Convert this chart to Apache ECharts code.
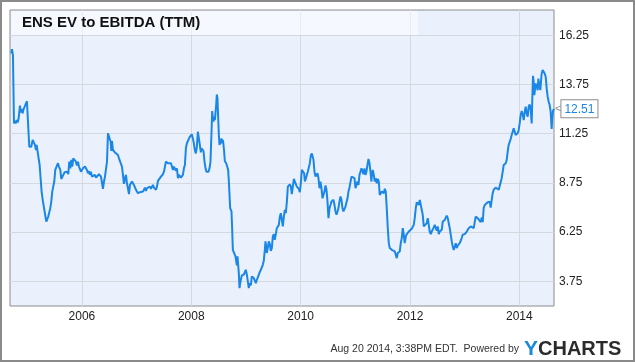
<!DOCTYPE html>
<html>
<head>
<meta charset="utf-8">
<script src="https://cdn.jsdelivr.net/npm/echarts@6/dist/echarts.min.js"></script>
<style>
html,body{margin:0;padding:0;background:#fff;}
#chart{width:635px;height:362px;}
</style>
</head>
<body>
<div id="chart"></div>
<script>
// Chart text
const titleText = 'ENS EV to EBITDA (TTM)';
const footerText = 'Aug 20 2014, 3:38PM EDT.  Powered by';

// Axis ticks
const yTicks = [3.75, 6.25, 8.75, 11.25, 13.75, 16.25];
const xTicks = [2006, 2008, 2010, 2012, 2014];
const xRange = [2004.684, 2014.634];
const yRange = [2.5, 17.53];

// Dates as decimal years
const years = [
2004.708,2004.720,2004.738,2004.757,2004.769,2004.787,2004.805,2004.824,2004.842,2004.866,2004.879,2004.897,2004.915,2004.933,2004.952,2004.970,2004.994,
2005.013,2005.025,2005.037,2005.055,2005.074,2005.098,2005.122,2005.141,2005.159,2005.171,2005.189,2005.208,2005.226,2005.244,2005.262,2005.287,2005.317,
2005.348,2005.366,2005.384,2005.403,2005.421,2005.439,2005.457,2005.476,2005.494,2005.512,2005.531,2005.561,2005.579,2005.604,2005.622,2005.640,2005.659,
2005.683,2005.707,2005.732,2005.750,2005.768,2005.787,2005.805,2005.823,2005.841,2005.860,2005.884,2005.908,2005.927,2005.945,2005.963,2005.982,2006.000,
2006.018,2006.036,2006.055,2006.073,2006.091,2006.110,2006.128,2006.146,2006.164,2006.183,2006.201,2006.219,2006.237,2006.256,2006.274,2006.292,
2006.311,2006.330,2006.348,2006.366,2006.384,2006.403,2006.421,2006.439,2006.458,2006.476,2006.494,2006.512,2006.525,2006.537,2006.549,2006.567,2006.586,
2006.604,2006.622,2006.640,2006.659,2006.677,2006.695,2006.713,2006.732,2006.750,2006.768,2006.787,2006.805,2006.823,2006.841,2006.860,2006.878,2006.896,
2006.915,2006.933,2006.951,2006.969,2006.988,2007.006,2007.024,2007.043,2007.061,2007.079,2007.097,2007.116,2007.134,2007.152,2007.171,2007.189,2007.207,
2007.225,2007.244,2007.262,2007.280,2007.298,2007.317,2007.335,2007.353,2007.372,2007.390,2007.408,2007.426,2007.445,2007.463,2007.481,2007.500,2007.518,
2007.536,2007.554,2007.573,2007.591,2007.609,2007.628,2007.646,2007.664,2007.682,2007.701,2007.719,2007.737,2007.756,2007.774,2007.792,2007.810,2007.829,
2007.847,2007.865,2007.883,2007.902,2007.920,2007.938,
2007.955,2007.974,2007.992,2008.010,2008.028,2008.047,2008.065,2008.083,2008.102,2008.120,2008.138,2008.156,2008.175,2008.187,2008.205,2008.223,2008.242,
2008.260,2008.278,2008.297,2008.315,2008.333,2008.351,2008.370,2008.382,2008.394,2008.406,2008.418,2008.431,2008.443,2008.455,2008.467,2008.479,2008.492,
2008.504,2008.516,2008.528,2008.540,2008.552,2008.565,2008.577,2008.589,2008.601,2008.613,2008.626,2008.638,2008.656,2008.674,2008.687,2008.699,2008.711,
2008.723,2008.735,2008.747,2008.760,2008.772,2008.784,2008.796,2008.808,2008.821,2008.833,2008.845,2008.857,2008.869,2008.882,2008.894,2008.906,2008.924,
2008.942,2008.961,2008.979,2008.997,2009.016,2009.034,2009.052,2009.070,2009.089,2009.107,2009.125,2009.144,2009.162,2009.180,2009.198,2009.217,2009.235,
2009.253,2009.272,2009.290,2009.308,2009.326,2009.345,2009.357,2009.369,2009.381,2009.400,2009.418,2009.436,2009.454,2009.473,2009.491,2009.509,2009.527,
2009.546,2009.564,
2009.601,2009.620,2009.638,2009.656,2009.674,2009.693,2009.711,2009.729,2009.748,2009.766,2009.784,2009.802,2009.821,2009.839,2009.857,2009.876,2009.894,
2009.912,2009.930,2009.949,2009.967,2009.985,2010.003,2010.022,2010.040,2010.052,2010.064,2010.077,2010.089,2010.101,2010.113,2010.131,2010.150,2010.168,
2010.186,2010.205,2010.223,2010.235,2010.253,2010.272,2010.290,2010.308,2010.326,2010.345,2010.363,2010.381,2010.400,2010.418,2010.436,2010.454,2010.473,
2010.491,2010.509,2010.528,2010.546,2010.564,2010.582,2010.601,2010.619,2010.637,2010.656,2010.674,2010.692,2010.710,2010.729,2010.747,2010.765,2010.783,
2010.802,2010.820,2010.838,2010.857,2010.875,2010.893,2010.911,2010.930,2010.948,2010.966,2010.985,2011.003,2011.021,2011.039,2011.058,2011.076,2011.094,
2011.113,2011.131,2011.149,2011.167,2011.186,2011.204,2011.222,2011.241,2011.259,2011.277,2011.295,
2011.301,2011.319,2011.338,2011.356,2011.374,2011.393,2011.411,2011.429,2011.447,2011.466,2011.484,2011.502,2011.521,2011.539,2011.557,2011.575,2011.594,
2011.612,2011.630,2011.648,2011.667,2011.685,2011.703,2011.722,2011.740,2011.758,2011.776,2011.795,2011.813,2011.831,2011.850,2011.868,2011.886,2011.904,
2011.923,2011.941,2011.959,2011.978,2011.996,2012.014,2012.032,2012.051,2012.069,2012.087,2012.106,2012.124,2012.142,2012.160,2012.179,2012.197,2012.215,
2012.233,2012.252,2012.270,2012.288,2012.307,2012.325,2012.343,2012.361,2012.380,2012.398,2012.416,2012.435,2012.453,2012.471,2012.489,2012.508,2012.526,
2012.544,2012.563,2012.581,2012.599,2012.617,2012.636,2012.654,2012.672,2012.691,2012.709,2012.727,2012.745,2012.764,2012.782,2012.800,2012.818,2012.837,
2012.855,2012.873,
2012.891,2012.910,2012.928,2012.946,2012.964,2012.983,2013.001,2013.019,2013.038,2013.056,2013.074,2013.092,2013.111,2013.129,2013.147,2013.166,2013.184,
2013.202,2013.220,2013.239,2013.257,2013.275,2013.293,2013.312,2013.330,2013.348,2013.367,2013.385,2013.403,2013.421,2013.440,2013.458,2013.476,2013.495,
2013.513,2013.531,2013.549,2013.568,2013.586,2013.604,2013.623,2013.641,2013.659,2013.677,2013.696,2013.714,2013.732,2013.751,2013.769,2013.787,2013.805,
2013.824,2013.842,2013.860,2013.878,2013.897,2013.915,2013.933,2013.952,2013.970,2013.988,2014.006,2014.025,2014.043,2014.061,2014.080,2014.098,2014.116,
2014.134,2014.153,2014.171,2014.189,2014.208,2014.226,2014.238,2014.250,2014.262,2014.275,2014.287,2014.299,2014.311,2014.323,2014.336,2014.348,2014.360,
2014.372,2014.384,2014.396,2014.409,2014.427,2014.445,2014.463,2014.482,2014.500,2014.518,2014.537,2014.555,2014.573,2014.591,2014.604,2014.616,2014.634
];

// EV / EBITDA (TTM) values
const evEbitda = [
15.32,15.54,15.24,11.77,11.89,11.77,11.94,11.82,12.03,12.67,12.33,12.50,12.28,12.50,12.62,12.70,12.90,
11.86,11.18,10.59,10.68,10.59,10.93,10.98,10.68,10.42,10.68,10.34,10.42,9.66,9.66,8.31,7.80,7.30,
6.79,6.87,7.04,7.13,7.47,7.80,8.31,8.28,8.82,9.41,9.49,9.75,9.58,9.41,8.95,8.87,9.16,
9.29,9.24,9.32,9.19,9.83,9.49,9.92,9.58,10.00,9.92,9.86,9.63,9.83,9.58,9.49,9.32,9.41,
9.49,9.53,9.58,9.66,9.41,9.24,9.36,9.16,9.32,9.07,9.16,8.99,9.16,9.02,9.07,9.02,
9.19,9.12,9.07,9.16,8.45,8.82,9.07,9.16,9.83,11.27,11.32,11.35,10.84,10.37,10.88,10.42,10.34,
10.30,10.25,10.20,10.17,10.00,10.08,9.92,9.58,9.16,8.70,8.99,9.16,8.73,8.48,8.18,8.65,8.73,
8.82,8.90,8.65,8.56,8.40,8.48,8.23,8.14,8.28,8.18,8.23,8.31,8.40,8.51,8.34,8.48,8.56,
8.45,8.56,8.45,8.48,8.65,8.51,8.48,8.40,8.56,8.85,8.90,8.82,9.07,9.16,9.19,9.32,9.58,
9.83,9.92,9.75,9.66,9.83,9.75,9.58,9.41,9.58,9.49,9.36,9.49,8.99,9.16,9.07,9.02,8.95,
9.16,9.49,9.66,10.54,10.76,10.88,
10.98,11.10,11.15,11.22,11.01,10.76,10.42,10.25,10.59,11.35,11.27,10.68,10.30,10.51,10.42,10.37,9.83,
9.49,9.32,9.24,9.32,9.49,9.83,11.35,12.40,12.03,11.86,12.11,11.94,11.86,12.70,13.24,13.04,12.03,
11.18,10.68,10.76,10.88,11.01,10.76,10.93,10.68,10.34,9.86,9.83,9.75,9.58,9.41,8.82,8.14,7.47,
7.55,7.30,6.45,5.35,5.44,5.19,5.27,5.02,4.93,4.56,5.02,4.59,4.17,3.41,3.66,3.83,4.05,
4.12,4.09,4.22,4.34,4.09,4.00,3.41,3.66,3.55,4.00,4.00,3.92,3.83,3.66,3.83,3.95,4.09,
4.22,4.34,4.43,4.59,4.80,5.35,5.78,5.57,5.19,5.47,5.78,5.64,5.30,5.44,6.03,6.15,5.86,
6.15,6.45,
6.62,7.04,7.21,6.87,6.54,7.04,7.38,7.21,7.80,8.56,8.65,8.68,8.56,8.18,8.56,8.95,8.82,
8.82,8.56,8.56,8.45,8.28,8.73,9.41,9.32,9.49,9.24,8.82,8.73,9.02,9.16,9.32,9.41,9.75,
10.14,10.25,10.22,9.92,9.32,9.07,9.16,9.24,8.99,8.48,8.82,8.48,7.97,7.97,8.31,8.62,8.40,
7.80,6.96,7.47,7.63,7.80,7.89,7.89,7.63,7.30,7.13,7.30,7.47,7.80,8.06,7.89,7.47,7.30,
7.30,7.55,7.63,7.97,8.31,8.51,8.56,9.07,9.12,9.07,8.99,8.48,8.65,8.82,8.65,9.16,9.32,
9.49,9.41,9.19,9.49,9.16,9.32,9.66,9.97,9.75,9.32,8.82,
9.07,9.41,9.16,8.82,8.99,8.73,8.95,8.82,8.14,8.18,8.31,8.40,8.23,8.45,8.31,7.47,6.45,
5.69,5.44,5.47,5.35,5.41,5.30,5.27,5.10,4.93,5.19,5.10,5.27,5.69,5.95,6.45,6.12,5.69,
6.03,6.15,6.08,6.28,6.37,6.32,6.42,6.49,6.62,6.96,7.47,7.77,7.72,7.63,7.89,7.94,7.80,
7.13,6.54,6.45,6.62,6.71,6.96,6.62,6.28,6.15,6.28,6.37,6.49,6.62,6.66,6.32,6.54,6.15,
6.28,6.20,6.37,6.79,6.82,6.87,6.96,7.09,6.96,6.71,6.45,6.12,5.78,5.52,5.35,5.44,5.69,
5.44,5.57,
5.61,5.69,5.64,5.95,6.12,6.12,6.15,6.20,6.28,6.37,6.45,6.49,6.54,6.62,6.49,6.45,6.76,
7.04,7.04,6.96,7.04,6.87,6.76,6.99,6.76,7.47,7.63,7.67,7.72,7.77,7.72,7.80,7.50,7.89,
8.23,8.40,8.45,8.51,8.48,8.45,8.40,8.31,8.48,8.99,9.32,9.66,9.75,9.75,9.92,10.34,10.68,
10.76,10.98,11.18,11.13,11.52,11.44,11.18,11.10,11.27,11.44,11.77,12.20,12.40,12.23,11.94,12.36,12.62,
12.28,12.11,12.62,12.74,12.45,11.77,13.13,14.19,13.89,13.21,13.55,13.80,13.72,13.89,13.46,14.05,13.80,
13.63,13.46,13.89,14.31,14.48,14.43,14.31,14.14,13.55,13.13,12.87,12.70,12.36,11.49,12.11,12.40,12.51
];

const seriesData = years.map((y, i) => [y, evEbitda[i]]);

const LINE = '#1a86e6';
const chart = echarts.init(document.getElementById('chart'), null, {renderer: 'canvas'});
chart.setOption({
  animation: false,
  backgroundColor: '#ffffff',
  grid: {
    left: 10, top: 10, right: 81, bottom: 56,
    show: true, backgroundColor: '#eaf1fc', borderColor: '#8c8c8c', borderWidth: 1
  },
  xAxis: {
    type: 'value', min: xRange[0], max: xRange[1],
    axisLine: {show: false}, axisTick: {show: false, customValues: xTicks},
    splitLine: {show: true, lineStyle: {color: '#d5d8dd', width: 1}},
    axisLabel: {
      customValues: xTicks, margin: 5,
      color: '#222', fontSize: 12, fontFamily: 'Liberation Sans, Arial, sans-serif',
      formatter: v => String(Math.round(v))
    }
  },
  yAxis: {
    type: 'value', position: 'right', min: yRange[0], max: yRange[1],
    axisLine: {show: false}, axisTick: {show: false, customValues: yTicks},
    splitLine: {show: true, lineStyle: {color: '#d5d8dd', width: 1}},
    axisLabel: {
      customValues: yTicks, margin: 5,
      color: '#222', fontSize: 12, fontFamily: 'Liberation Sans, Arial, sans-serif',
      formatter: v => v.toFixed(2)
    }
  },
  series: [{
    type: 'line', data: seriesData, showSymbol: false, symbol: 'none',
    lineStyle: {color: LINE, width: 2}, z: 5,
    endLabel: {
      show: true, distance: 1,
      formatter: p => '{arr|<}{box|' + p.value[1].toFixed(2) + '}',
      rich: {
        arr: {color: '#8c8c8c', fontSize: 11, fontFamily: 'Liberation Sans, Arial, sans-serif', padding: [0, 0, 0, 0]},
        box: {color: LINE, fontSize: 12, fontFamily: 'Liberation Sans, Arial, sans-serif',
              backgroundColor: '#ffffff', borderColor: '#8c8c8c', borderWidth: 1, padding: [3, 3, 2, 3]}
      }
    }
  }],
  graphic: [
    {type: 'rect', z: 1, silent: true, shape: {x: 11, y: 11, width: 407, height: 24},
     style: {fill: 'rgba(255,255,255,0.5)'}},
    {type: 'text', z: 10, left: 22, top: 15,
     style: {text: titleText, fill: '#111', font: 'bold 15px "Liberation Sans", Arial, sans-serif'}},
    {type: 'rect', z: 10, silent: true, shape: {x: 1, y: 1, width: 633, height: 360},
     style: {fill: 'none', stroke: '#8a8a8a', lineWidth: 2}},
    {type: 'text', z: 10, x: 519, y: 349,
     style: {text: footerText, fill: '#333', font: '10.5px "Liberation Sans", Arial, sans-serif', align: 'right', verticalAlign: 'middle'}},
    {type: 'text', z: 10, x: 524, y: 349,
     style: {
       text: '{y|Y}{c|CHARTS}', verticalAlign: 'middle',
       rich: {
         y: {fill: '#1a8ad8', font: 'bold 21px "Liberation Sans", Arial, sans-serif'},
         c: {fill: '#2b2b2b', font: 'bold 20px "Liberation Sans", Arial, sans-serif'}
       }
     }}
  ]
});
</script>
</body>
</html>
